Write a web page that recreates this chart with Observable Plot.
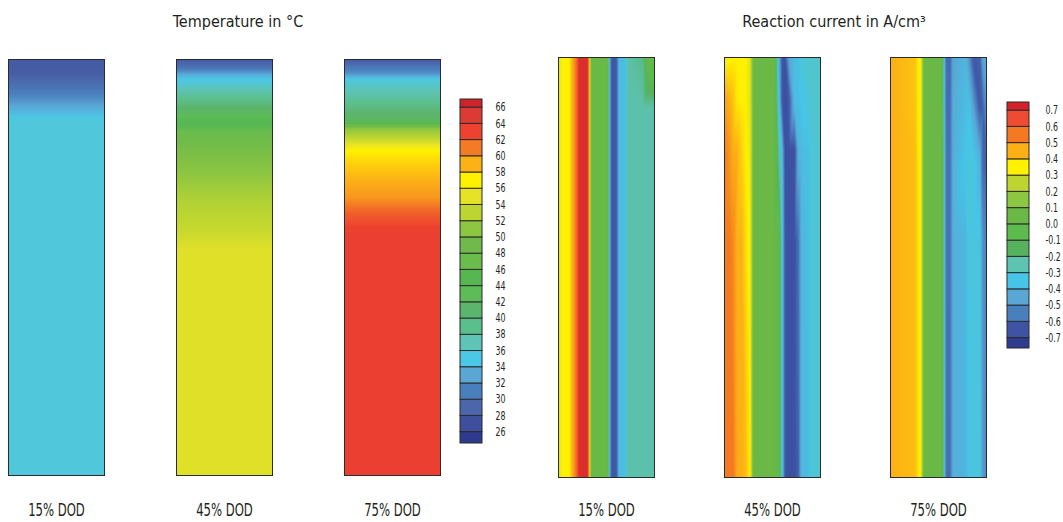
<!DOCTYPE html>
<html>
<head>
<meta charset="utf-8">
<script src="https://cdn.jsdelivr.net/npm/d3@7"></script>
<script src="https://cdn.jsdelivr.net/npm/@observablehq/plot@0.6"></script>
<style>
  html, body { margin: 0; padding: 0; background: #fff; }
  #chart { position: relative; width: 1063px; height: 522px; overflow: hidden;
           font-family: "DejaVu Sans Condensed", "DejaVu Sans", sans-serif; color: #231f20; }
  #chart > * { position: absolute; top: 0; }
  .title { font-size: 16px; line-height: 16px; text-align: center; white-space: pre; }
</style>
</head>
<body>
<div id="chart">
  <div class="title" id="t1" style="left:0px;width:476px;top:14px">Temperature in °C</div>
  <div class="title" id="t2" style="left:668px;width:332px;top:14px">Reaction current in A/cm³</div>
</div>
<script>
const FONT = '"DejaVu Sans Condensed", "DejaVu Sans", sans-serif';
const dods = ["15% DOD", "45% DOD", "75% DOD"];

// ---------- Temperature legend (°C), swatches from bottom to top ----------
const tempSwatchValues = [25, 27, 29, 31, 33, 35, 37, 39, 41, 43, 45, 47, 49, 51, 53, 55, 57, 59, 61, 63, 65, 67];
const tempSwatchColors = ["#2e3a8d", "#3e4f9e", "#4b66ab", "#4a7fbe", "#5aa7d5", "#4bc8e6", "#5ec4b5", "#5bbf8c",
                          "#5bb56c", "#5dbb58", "#56b752", "#6abd4c", "#6fba4a", "#8dc641", "#bdd531", "#e6e228",
                          "#fff100", "#fcb117", "#f47a25", "#ee4230", "#dd3a35", "#d0222a"];
const tempTicks = [26, 28, 30, 32, 34, 36, 38, 40, 42, 44, 46, 48, 50, 52, 54, 56, 58, 60, 62, 64, 66];
const tempLegendExtent = [24.6, 67];

// ---------- Temperature profiles: depth (0 = top, 1 = bottom) and value ----------
const tempDepth15 = [0, 0.034, 0.091, 0.146, 1];
const temp15      = [28, 28.3, 31.5, 35.5, 35.5];
const tempDepth45 = [0, 0.019, 0.043, 0.067, 0.106, 0.195, 0.274, 0.339, 0.411, 0.454, 1];
const temp45      = [28, 30, 34.5, 36.5, 40, 49, 51, 52.5, 53.5, 54.7, 54.7];
const tempDepth75 = [0, 0.019, 0.034, 0.05, 0.075, 0.099, 0.13, 0.147, 0.166, 0.188, 0.219, 0.25, 0.291, 0.332, 0.37, 0.416, 1];
const temp75      = [28, 30.5, 32, 35.5, 37, 38.5, 41, 42, 51, 53, 57, 58, 59, 60, 62, 63.4, 63.4];

// ---------- Reaction current legend (A/cm³) ----------
const curSwatchValues = [-0.75, -0.65, -0.55, -0.45, -0.35, -0.25, -0.15, -0.05, 0.05, 0.15, 0.25, 0.35, 0.45, 0.55, 0.65, 0.75];
const curSwatchColors = ["#2e3b8e", "#3f53a4", "#4a7fbd", "#5aa6d4", "#45c6e8", "#5dc3b3", "#57b25e", "#5cbb4c",
                         "#6ab845", "#8dc640", "#bed530", "#fff100", "#fcb016", "#f47920", "#ef4a32", "#d3222a"];
const curTicks = [0.7, 0.6, 0.5, 0.4, 0.3, 0.2, 0.1, 0, -0.1, -0.2, -0.3, -0.4, -0.5, -0.6, -0.7];
const curLegendExtent = [-0.764, 0.75];

// ---------- Reaction current fields: x across width (0..1), rows by depth ----------
const cur15X = [0, 0.04, 0.11, 0.145, 0.18, 0.215, 0.305, 0.34, 0.51, 0.535, 0.55, 0.605, 0.63, 0.69, 0.72, 0.88, 0.93, 1];
const cur15Depth = [0, 0.06, 0.12, 1];
const cur15 = [
  [0.30, 0.35, 0.35, 0.45, 0.55, 0.72, 0.72, 0.05, 0.05, -0.40, -0.64, -0.64, -0.38, -0.38, -0.24, -0.20, 0.00, 0.00],
  [0.30, 0.35, 0.35, 0.45, 0.55, 0.72, 0.72, 0.05, 0.05, -0.40, -0.64, -0.64, -0.38, -0.38, -0.24, -0.22, -0.10, -0.06],
  [0.30, 0.35, 0.35, 0.45, 0.55, 0.72, 0.72, 0.05, 0.05, -0.40, -0.64, -0.64, -0.38, -0.38, -0.24, -0.24, -0.24, -0.24],
  [0.30, 0.35, 0.35, 0.45, 0.55, 0.72, 0.72, 0.05, 0.05, -0.40, -0.64, -0.64, -0.38, -0.38, -0.24, -0.24, -0.24, -0.24]
];

const cur45X = [0, 0.05, 0.09, 0.13, 0.18, 0.22, 0.27, 0.30, 0.52, 0.56, 0.60, 0.63, 0.67, 0.73, 0.77, 0.80, 0.87, 0.90, 1];
const cur45Depth = [0, 0.1, 0.22, 0.44, 1];
const cur45 = [
  [0.33, 0.34, 0.35, 0.35, 0.35, 0.35, 0.30, 0.05, 0.05, -0.35, -0.65, -0.66, -0.45, -0.38, -0.38, -0.32, -0.30, -0.30, -0.30],
  [0.47, 0.45, 0.42, 0.36, 0.35, 0.35, 0.30, 0.05, 0.05, -0.30, -0.64, -0.66, -0.64, -0.38, -0.38, -0.35, -0.33, -0.30, -0.30],
  [0.54, 0.50, 0.45, 0.45, 0.40, 0.35, 0.32, 0.05, 0.05, -0.20, -0.40, -0.66, -0.66, -0.66, -0.40, -0.38, -0.38, -0.32, -0.30],
  [0.55, 0.55, 0.52, 0.45, 0.45, 0.38, 0.33, 0.05, 0.05, 0.00, -0.32, -0.64, -0.66, -0.66, -0.58, -0.40, -0.38, -0.32, -0.30],
  [0.55, 0.55, 0.55, 0.46, 0.45, 0.43, 0.35, 0.05, 0.05, 0.00, -0.32, -0.64, -0.66, -0.66, -0.62, -0.40, -0.38, -0.32, -0.30]
];

const cur75X = [0, 0.26, 0.29, 0.32, 0.345, 0.53, 0.56, 0.58, 0.62, 0.65, 0.78, 0.82, 0.86, 0.93, 0.96, 1];
const cur75Depth = [0, 0.12, 0.25, 0.44, 1];
const cur75 = [
  [0.45, 0.42, 0.35, 0.33, 0.05, 0.05, -0.35, -0.60, -0.60, -0.45, -0.40, -0.50, -0.64, -0.62, -0.45, -0.42],
  [0.45, 0.42, 0.35, 0.33, 0.05, 0.05, -0.33, -0.59, -0.59, -0.43, -0.38, -0.36, -0.45, -0.64, -0.62, -0.50],
  [0.45, 0.43, 0.36, 0.33, 0.05, 0.05, -0.30, -0.58, -0.58, -0.42, -0.35, -0.33, -0.33, -0.40, -0.60, -0.62],
  [0.45, 0.43, 0.36, 0.33, 0.05, 0.05, -0.30, -0.58, -0.58, -0.42, -0.40, -0.33, -0.33, -0.33, -0.50, -0.54],
  [0.45, 0.43, 0.36, 0.33, 0.05, 0.05, -0.30, -0.59, -0.59, -0.42, -0.40, -0.34, -0.33, -0.33, -0.48, -0.52]
];

// ---------- build point tables ----------
function profilePoints(dod, depths, values) {
  const out = [];
  depths.forEach((d, i) => { out.push({dod, x: 0, y: d, v: values[i]}); out.push({dod, x: 1, y: d, v: values[i]}); });
  return out;
}
function gridPoints(dod, xs, depths, rows) {
  const out = [];
  depths.forEach((d, i) => xs.forEach((x, j) => out.push({dod, x, y: d, v: rows[i][j]})));
  return out;
}
const tempPoints = [
  ...profilePoints(dods[0], tempDepth15, temp15),
  ...profilePoints(dods[1], tempDepth45, temp45),
  ...profilePoints(dods[2], tempDepth75, temp75)
];
const curPoints = [
  ...gridPoints(dods[0], cur15X, cur15Depth, cur15),
  ...gridPoints(dods[1], cur45X, cur45Depth, cur45),
  ...gridPoints(dods[2], cur75X, cur75Depth, cur75)
];

const tempColor = {type: "linear", domain: tempSwatchValues, range: tempSwatchColors, interpolate: "rgb", clamp: true};
const curColor  = {type: "linear", domain: curSwatchValues, range: curSwatchColors, interpolate: "rgb", clamp: true};

// horizontally condense the axis labels (the source uses a condensed typeface)
function narrowText(svg, s) {
  svg.querySelectorAll("text").forEach(el => {
    const xa = el.getAttribute("x");
    const numeric = xa != null && /^-?[\d.]+$/.test(xa);
    const x = numeric ? +xa : 0;
    if (numeric) el.setAttribute("x", 0);
    const t = el.getAttribute("transform") || "";
    el.setAttribute("transform", `${t} translate(${x},0) scale(${s},1)`);
  });
}

function panels(points, color, opts) {
  const svg = Plot.plot({
    width: opts.width, height: 522,
    marginTop: opts.top, marginBottom: 522 - opts.bottom, marginLeft: 8, marginRight: 10,
    style: {fontFamily: FONT, fontSize: "17.5px", color: "#231f20", background: "transparent"},
    fx: {domain: dods, paddingInner: opts.pad, paddingOuter: 0, label: null, axis: "bottom",
         tickSize: 0, tickPadding: 503 - opts.bottom},
    x: {domain: [0, 1], axis: null},
    y: {domain: [0, 1], reverse: true, axis: null},
    color,
    marks: [
      Plot.raster(points, {x: "x", y: "y", fill: "v", fx: "dod", interpolate: "barycentric"}),
      Plot.frame({stroke: "#2b2b2b"})
    ]
  });
  narrowText(svg, 0.74);
  return svg;
}

function colorbar(values, extent, step, ticks, color, opts) {
  const svg = Plot.plot({
    width: opts.width, height: 522,
    marginTop: opts.top, marginBottom: 522 - opts.bottom, marginLeft: opts.left, marginRight: opts.width - opts.left - 22,
    style: {fontFamily: FONT, fontSize: "11.5px", color: "#231f20", background: "transparent"},
    y: {domain: extent, ticks, tickSize: 0, tickPadding: opts.pad, label: null, axis: "right",
        tickFormat: opts.format},
    color,
    marks: [
      Plot.rect(values, {
        y1: d => Math.max(d - step / 2, extent[0]),
        y2: d => Math.min(d + step / 2, extent[1]),
        fill: d => d, stroke: "#2b2b2b", strokeWidth: 1
      })
    ]
  });
  narrowText(svg, 0.76);
  return svg;
}

const chart = document.getElementById("chart");
const p1 = panels(tempPoints, tempColor, {width: 450, top: 59, bottom: 475, pad: 72 / 168});
p1.style.left = "0px";
const p2 = panels(curPoints, curColor, {width: 446, top: 57, bottom: 477, pad: 70 / 166});
p2.style.left = "550px";
const l1 = colorbar(tempSwatchValues, tempLegendExtent, 2, tempTicks, tempColor,
  {width: 70, left: 8, top: 99, bottom: 443, pad: 13, format: d => String(d)});
l1.style.left = "452px";
const l2 = colorbar(curSwatchValues, curLegendExtent, 0.1, curTicks, curColor,
  {width: 63, left: 7, top: 102, bottom: 348, pad: 16, format: d => d.toFixed(1)});
l2.style.left = "1000px";
chart.append(p1, p2, l1, l2);
</script>
</body>
</html>
